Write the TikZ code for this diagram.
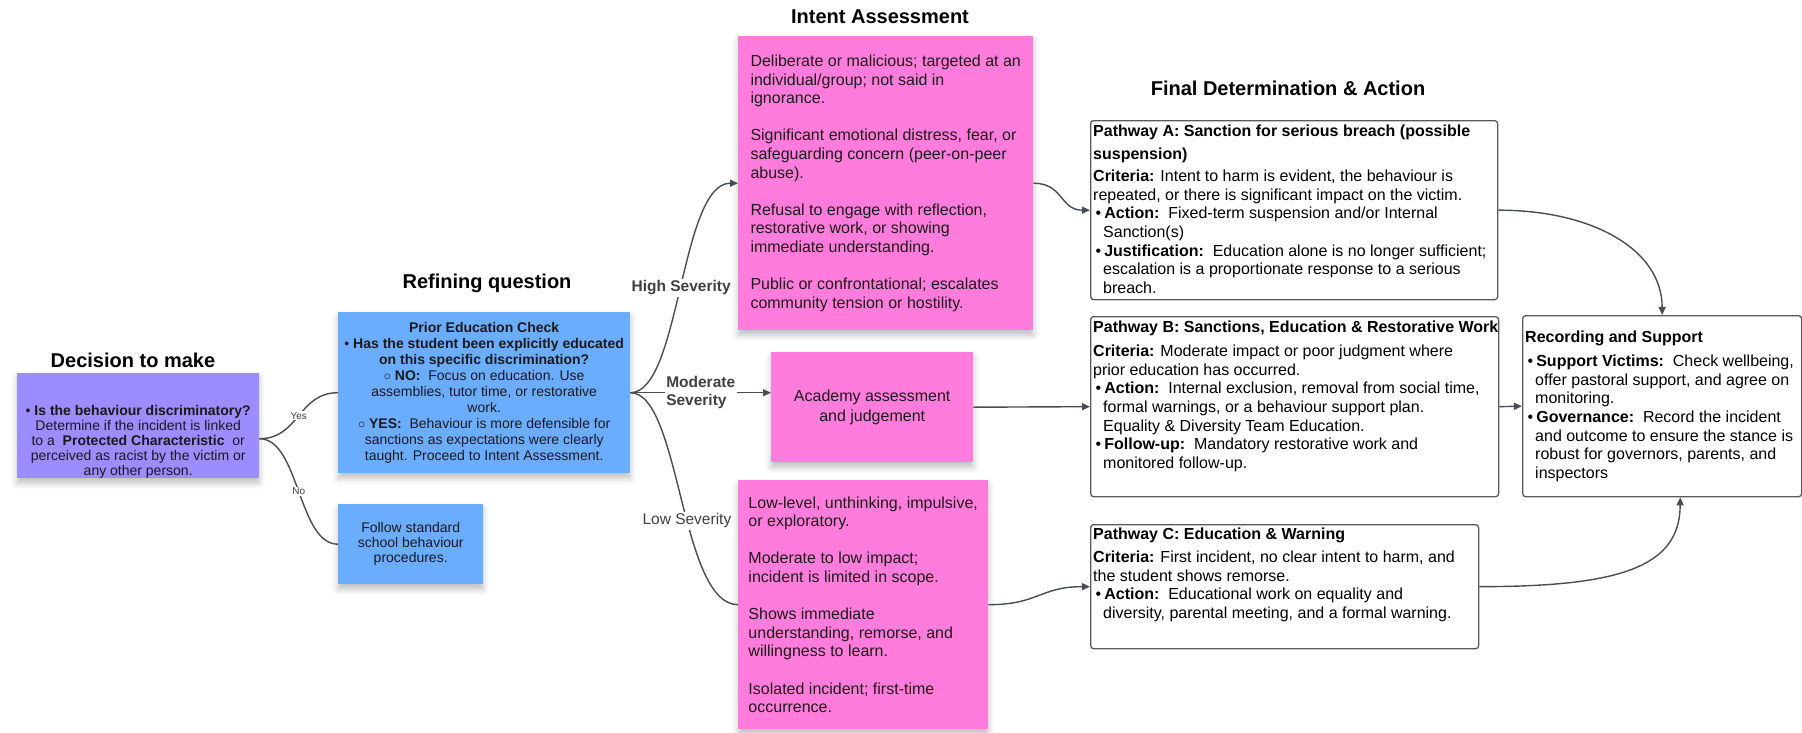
\documentclass[tikz,border=0pt]{standalone}
\usepackage{fontspec}
\setmainfont{Liberation Sans}
\usepackage{tikz}
\usetikzlibrary{arrows.meta}
\usetikzlibrary{shadows.blur}

\definecolor{notepurple}{RGB}{155,140,255}
\definecolor{noteblue}{RGB}{106,173,255}
\definecolor{notepink}{RGB}{255,124,220}
\definecolor{linkgray}{RGB}{72,76,84}
\definecolor{framegray}{RGB}{88,90,96}

\begin{document}
\begin{tikzpicture}
  [
    x=1pt, y=-1pt,
    note/.style={
      anchor=north west,
      inner sep=2pt,
      text=black!90,
      blur shadow={shadow xshift=0pt,shadow yshift=-5pt,shadow blur radius=6pt,shadow opacity=25}
    },
    smallnote/.style={
      note,
      align=center,
      font=\fontsize{14}{15}\selectfont
    },
    bignote/.style={
      note,
      fill=notepink,
      font=\fontsize{16}{18.6}\selectfont
    },
    pathbox/.style={
      anchor=north west,
      draw=framegray,
      line width=1.3pt,
      fill=white,
      rounded corners=3pt
    },
    pathtext/.style={
      anchor=north west,
      inner sep=0pt,
      align=left,
      font=\fontsize{16}{18.7}\selectfont
    },
    heading/.style={
      font=\bfseries\fontsize{20}{24}\selectfont
    },
    link/.style={
      draw=linkgray,
      line width=1.4pt
    },
    arrow/.style={
      link,
      -{Triangle[length=8pt,width=7pt]}
    },
    yesno/.style={
      fill=white, inner sep=1pt, text=black!75,
      font=\fontsize{10}{12}\selectfont
    },
    sev/.style={
      fill=white, inner sep=1.5pt, text=black!75,
      font=\bfseries\fontsize{15.5}{17.5}\selectfont
    }
  ]
    \useasboundingbox (0,0) rectangle (1802,732);
    % headings
    \node [heading] (decTitle) at (133,360) {Decision to make};
    \node [heading] (refTitle) at (487,283) {Refining question};
    \node [heading] (intTitle) at (880,17) {Intent Assessment};
    \node [heading] (finTitle) at (1288,88) {Final Determination \& Action};
    % sticky notes
    \node [smallnote, fill=notepurple, inner ysep=0pt, minimum width=242pt, minimum height=105pt] (decide) at (17,373)
      {\rule{0pt}{42pt}\textbullet\ \textbf{Is the behaviour discriminatory?}\\
       Determine if the incident is linked\\
       to a \ \textbf{Protected Characteristic}\ \ or\\
       perceived as racist by the victim or\\
       any other person.};
    \coordinate (decOut) at ([yshift=-13pt]decide.east);
    \node [smallnote, fill=noteblue, minimum width=292pt, minimum height=161pt,
           font=\fontsize{14}{16}\selectfont] (prior) at (338,312)
      {\textbf{Prior Education Check}\\
       \textbullet\ \textbf{Has the student been explicitly educated}\\
       \textbf{on this specific discrimination?}\\
       $\circ$ \textbf{NO:}\ \ Focus on education. Use\\
       assemblies, tutor time, or restorative\\
       work.\\
       $\circ$ \textbf{YES:}\ \ Behaviour is more defensible for\\
       sanctions as expectations were clearly\\
       taught. Proceed to Intent Assessment.};
    \node [smallnote, fill=noteblue, minimum width=145pt, minimum height=80pt] (follow) at (338,504)
      {Follow standard\\school behaviour\\procedures.};
    \node [bignote, align=left, minimum width=295pt, minimum height=294pt] (intent) at (738,36)
      {Deliberate or malicious; targeted at an\\
       individual/group; not said in\\
       ignorance.\\[18.6pt]
       Significant emotional distress, fear, or\\
       safeguarding concern (peer-on-peer\\
       abuse).\\[18.6pt]
       Refusal to engage with reflection,\\
       restorative work, or showing\\
       immediate understanding.\\[18.6pt]
       Public or confrontational; escalates\\
       community tension or hostility.};
    \node [bignote, align=center, minimum width=202pt, minimum height=110pt,
           font=\fontsize{16}{19.5}\selectfont] (academy) at (771,352)
      {Academy assessment\\and judgement};
    \node [bignote, align=left, minimum width=250pt, minimum height=249pt] (low) at (738,480)
      {Low-level, unthinking, impulsive,\\
       or exploratory.\\[18.6pt]
       Moderate to low impact;\\
       incident is limited in scope.\\[18.6pt]
       Shows immediate\\
       understanding, remorse, and\\
       willingness to learn.\\[18.6pt]
       Isolated incident; first-time\\
       occurrence.};
    % pathways
    \node [pathbox, minimum width=407pt, minimum height=179pt] (pathA) at (1090,120) {};
    \node [pathtext] (aText) at (1093,124.5)
      {\textbf{Pathway A: Sanction for serious breach (possible}\\[4.3pt]
       \textbf{suspension)}\\[3.4pt]
       \textbf{Criteria:} Intent to harm is evident, the behaviour is\\
       repeated, or there is significant impact on the victim.\\
       \hspace*{2.5pt}\textbullet\hspace{3pt}\textbf{Action:}\ \ Fixed-term suspension and/or Internal\\
       \hspace*{10pt}Sanction(s)\\
       \hspace*{2.5pt}\textbullet\hspace{3pt}\textbf{Justification:}\ \ Education alone is no longer sufficient;\\
       \hspace*{10pt}escalation is a proportionate response to a serious\\
       \hspace*{10pt}breach.};
    \node [pathbox, minimum width=408pt, minimum height=180pt] (pathB) at (1090,316) {};
    \node [pathtext] (bText) at (1093,320.5)
      {\textbf{Pathway B: Sanctions, Education \& Restorative Work}\\[5.3pt]
       \textbf{Criteria:} Moderate impact or poor judgment where\\
       prior education has occurred.\\
       \hspace*{2.5pt}\textbullet\hspace{3pt}\textbf{Action:}\ \ Internal exclusion, removal from social time,\\
       \hspace*{10pt}formal warnings, or a behaviour support plan.\\
       \hspace*{10pt}Equality \& Diversity Team Education.\\
       \hspace*{2.5pt}\textbullet\hspace{3pt}\textbf{Follow-up:}\ \ Mandatory restorative work and\\
       \hspace*{10pt}monitored follow-up.};
    \node [pathbox, minimum width=388pt, minimum height=124pt] (pathC) at (1090,524) {};
    \node [pathtext] (cText) at (1093,527.5)
      {\textbf{Pathway C: Education \& Warning}\\[4.3pt]
       \textbf{Criteria:} First incident, no clear intent to harm, and\\
       the student shows remorse.\\
       \hspace*{2.5pt}\textbullet\hspace{3pt}\textbf{Action:}\ \ Educational work on equality and\\
       \hspace*{10pt}diversity, parental meeting, and a formal warning.};
    \node [pathbox, minimum width=279pt, minimum height=181pt] (record) at (1522,315) {};
    \node [pathtext] (recText) at (1525,330.5)
      {\textbf{Recording and Support}\\[5.3pt]
       \hspace*{2.5pt}\textbullet\hspace{3pt}\textbf{Support Victims:}\ \ Check wellbeing,\\
       \hspace*{10pt}offer pastoral support, and agree on\\
       \hspace*{10pt}monitoring.\\
       \hspace*{2.5pt}\textbullet\hspace{3pt}\textbf{Governance:}\ \ Record the incident\\
       \hspace*{10pt}and outcome to ensure the stance is\\
       \hspace*{10pt}robust for governors, parents, and\\
       \hspace*{10pt}inspectors};
    % connectors
    \draw [link] (decOut) .. controls +(40,0) and +(-40,0) .. node [yesno] {Yes} (prior.west);
    \draw [link] (decOut) .. controls +(40,0) and +(-40,0) .. node [yesno] {No} (follow.west);
    \draw [arrow] (prior.east) .. controls +(50,0) and +(-58,0) .. node [sev] {High Severity} (intent.west);
    \draw [arrow] (prior.east) -- node [sev, align=left] {Moderate\\Severity} (prior.east -| academy.west);
    \draw [link] (prior.east) .. controls +(50,0) and +(-58,0) ..
      node [sev, pos=.57, font=\fontsize{15.5}{17.5}\selectfont] {Low Severity} (low.west);
    \draw [arrow] (intent.east) .. controls +(30,0) and +(-30,0) .. (pathA.west);
    \draw [arrow] (academy.east) -- (pathB.west);
    \draw [arrow] (low.east) .. controls +(50,0) and +(-50,0) .. (pathC.west);
    \draw [arrow] (pathA.east) .. controls +(95,0) and +(0,-65) .. (record.north);
    \draw [arrow] (pathB.east) -- (record.west);
    \draw [arrow] (pathC.east) .. controls +(140,0) and +(0,70) .. ([xshift=18pt]record.south);
\end{tikzpicture}
\end{document}
